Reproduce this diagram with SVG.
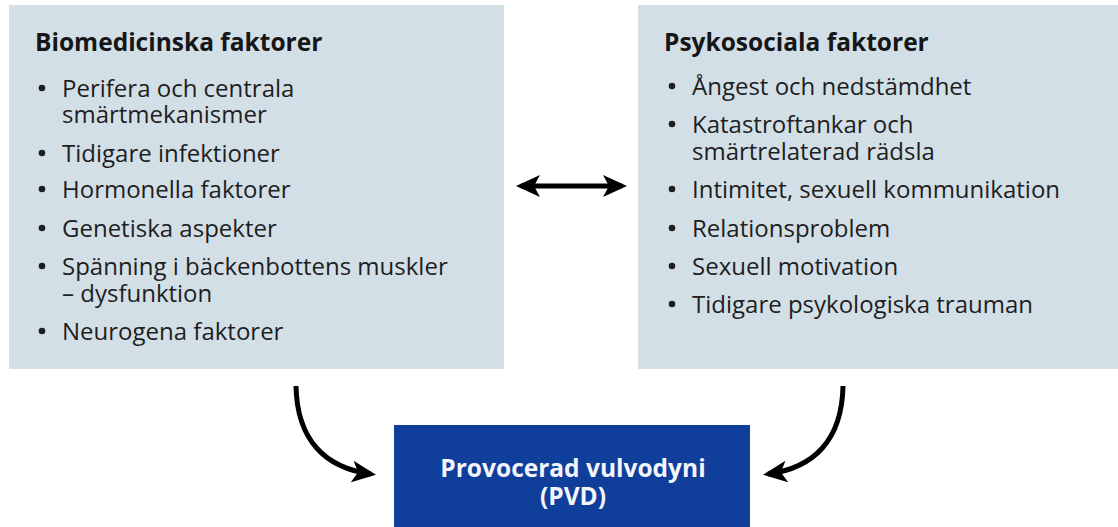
<svg xmlns="http://www.w3.org/2000/svg" width="1118" height="527" viewBox="0 0 1118 527">
<style>
.box{fill:#d3dfe7}
.hd{font-family:"Open Sans","Noto Sans",sans-serif;font-weight:700;font-size:24.5px;fill:#161616}
.it{font-family:"Open Sans","Noto Sans",sans-serif;font-size:24px;fill:#1e1e1e}
.bl{fill:#1e1e1e}
.pvd{font-family:"Open Sans","Noto Sans",sans-serif;font-weight:700;font-size:24.5px;fill:#f4f6fb;text-anchor:middle}
.con{fill:none;stroke:#000;stroke-width:5}
</style>
<defs>
<marker id="ah" viewBox="0 0 24 24" refX="19" refY="12" markerWidth="24" markerHeight="24" markerUnits="userSpaceOnUse" orient="auto">
<path d="M0,1 L24,12 L0,23 L6,12 Z" fill="#000"/>
</marker>
<marker id="ahs" viewBox="0 0 24 24" refX="19" refY="12" markerWidth="24" markerHeight="24" markerUnits="userSpaceOnUse" orient="auto-start-reverse">
<path d="M0,1 L24,12 L0,23 L6,12 Z" fill="#000"/>
</marker>
</defs>
<rect width="1118" height="527" fill="#fff"/>
<g id="biomedicinska">
<rect class="box" x="9" y="5" width="495" height="364"/>
<text class="hd" x="35" y="51">Biomedicinska faktorer</text>
<circle class="bl" cx="42" cy="88" r="3.3"/>
<text class="it" x="62" y="97">Perifera och centrala<tspan x="62" dy="26">smärtmekanismer</tspan></text>
<circle class="bl" cx="42" cy="153" r="3.3"/>
<text class="it" x="62" y="162">Tidigare infektioner</text>
<circle class="bl" cx="42" cy="189" r="3.3"/>
<text class="it" x="62" y="198">Hormonella faktorer</text>
<circle class="bl" cx="42" cy="228" r="3.3"/>
<text class="it" x="62" y="237">Genetiska aspekter</text>
<circle class="bl" cx="42" cy="266" r="3.3"/>
<text class="it" x="62" y="275">Spänning i bäckenbottens muskler<tspan x="62" dy="27">– dysfunktion</tspan></text>
<circle class="bl" cx="42" cy="331" r="3.3"/>
<text class="it" x="62" y="340">Neurogena faktorer</text>
</g>
<g id="psykosociala">
<rect class="box" x="638" y="5" width="480" height="364"/>
<text class="hd" x="664" y="51">Psykosociala faktorer</text>
<circle class="bl" cx="672" cy="86" r="3.3"/>
<text class="it" x="692" y="95">Ångest och nedstämdhet</text>
<circle class="bl" cx="672" cy="124" r="3.3"/>
<text class="it" x="692" y="133">Katastroftankar och<tspan x="692" dy="27">smärtrelaterad rädsla</tspan></text>
<circle class="bl" cx="672" cy="189" r="3.3"/>
<text class="it" x="692" y="198">Intimitet, sexuell kommunikation</text>
<circle class="bl" cx="672" cy="228" r="3.3"/>
<text class="it" x="692" y="237">Relationsproblem</text>
<circle class="bl" cx="672" cy="266" r="3.3"/>
<text class="it" x="692" y="275">Sexuell motivation</text>
<circle class="bl" cx="672" cy="304" r="3.3"/>
<text class="it" x="692" y="313">Tidigare psykologiska trauman</text>
</g>
<g id="pvd">
<rect x="394" y="425" width="356" height="102" fill="#0f3f9b"/>
<text class="pvd" x="573" y="477">Provocerad vulvodyni<tspan x="573" dy="28">(PVD)</tspan></text>
</g>
<g id="connectors">
<path class="con" d="M521,186 L622,186" marker-start="url(#ahs)" marker-end="url(#ah)"/>
<path class="con" d="M296,386 C297,440 325,468 371,474" marker-end="url(#ah)"/>
<path class="con" d="M843,386 C842,440 814,468 768,474" marker-end="url(#ah)"/>
</g>
</svg>
